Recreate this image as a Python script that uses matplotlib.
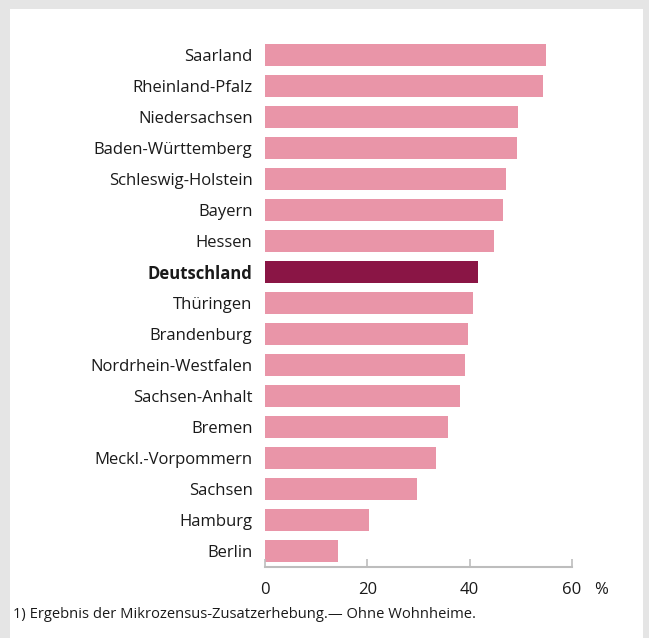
import matplotlib
matplotlib.use("Agg")
import matplotlib.pyplot as plt
from matplotlib.patches import Rectangle

states = ["Saarland", "Rheinland-Pfalz", "Niedersachsen", "Baden-Württemberg",
          "Schleswig-Holstein", "Bayern", "Hessen", "Deutschland", "Thüringen",
          "Brandenburg", "Nordrhein-Westfalen", "Sachsen-Anhalt", "Bremen",
          "Meckl.-Vorpommern", "Sachsen", "Hamburg", "Berlin"]
values = [54.9, 54.3, 49.4, 49.2, 47.1, 46.5, 44.8, 41.6, 40.6, 39.7, 39.1,
          38.1, 35.8, 33.4, 29.7, 20.3, 14.3]
highlight = "Deutschland"
xticks = [0, 20, 40, 60]

W, H = 649, 638
plt.rcParams['font.family'] = ['Open Sans', 'DejaVu Sans']
fig = plt.figure(figsize=(W / 100, H / 100), dpi=100)
fig.patch.set_facecolor("#e5e5e5")
fig.patches.append(Rectangle((10 / W, 0), (643 - 10) / W, 1 - 9 / H,
                             transform=fig.transFigure, facecolor="white",
                             edgecolor="none", zorder=-10))

ax = fig.add_axes([265 / W, 1 - 567 / H, (572 - 265) / W, (567 - 39.5) / H])
ax.set_facecolor("none")
ax.set_zorder(5)
pos = list(range(len(states)))
colors = ["#8a1545" if s == highlight else "#e995a8" for s in states]
ax.barh(pos, values, height=0.71, color=colors, left=0)
ax.set_xlim(0, 60)
ax.set_ylim(16.516, -0.5)
ax.set_yticks(pos)
ax.set_yticklabels(states, fontsize=12, color="#1a1a1a")
for lbl in ax.get_yticklabels():
    if lbl.get_text() == highlight:
        lbl.set_fontweight("bold")
ax.tick_params(axis="y", length=0, pad=9)
ax.set_xticks(xticks)
ax.set_xticklabels([str(t) for t in xticks], fontsize=12, color="#1a1a1a")
ax.tick_params(axis="x", direction="in", length=6, width=1.2, color="#bdbdbd", pad=11)
for s in ["top", "right", "left"]:
    ax.spines[s].set_visible(False)
ax.spines["bottom"].set_color("#bdbdbd")
ax.spines["bottom"].set_linewidth(1.5)

fig.text(601 / W, 1 - 590 / H, "%", fontsize=12, ha="center", va="center", color="#1a1a1a")
fig.text(13 / W, 1 - 614 / H, "1) Ergebnis der Mikrozensus-Zusatzerhebung.\u2014 Ohne Wohnheime.",
         fontsize=10.6, ha="left", va="center", color="#1a1a1a")

fig.savefig("out.png", dpi=100, facecolor=fig.get_facecolor())
